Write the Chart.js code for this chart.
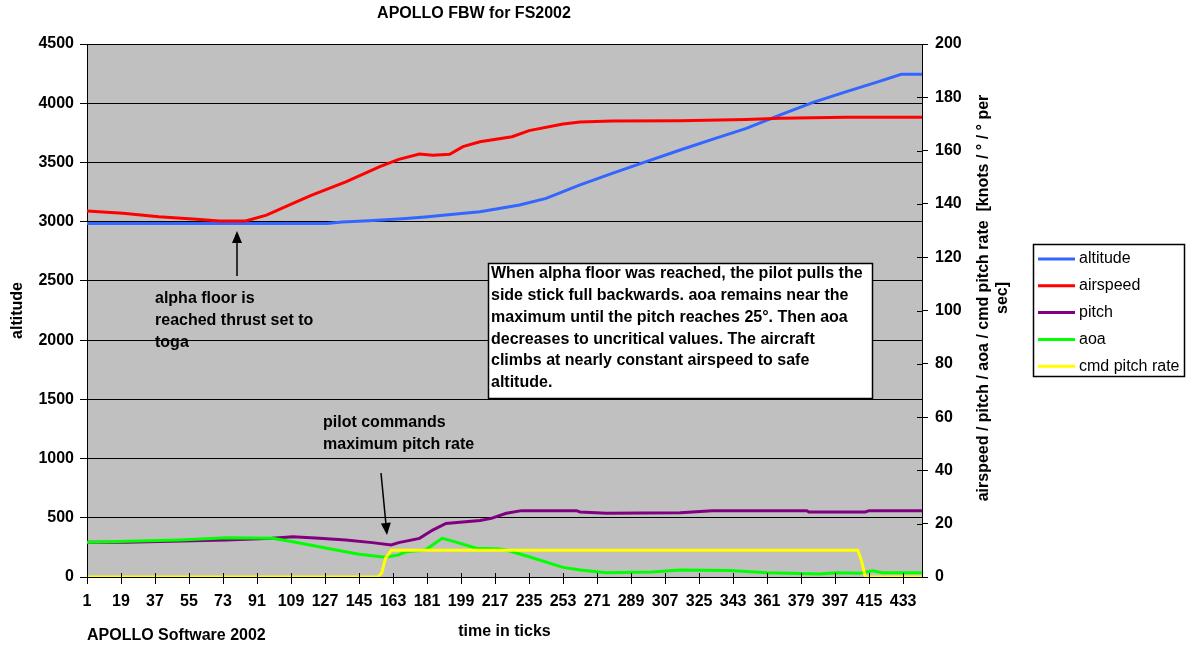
<!DOCTYPE html>
<html>
<head>
<meta charset="utf-8">
<title>APOLLO FBW for FS2002</title>
<script src="https://cdn.jsdelivr.net/npm/chart.js@4.4.0/dist/chart.umd.min.js"></script>
<style>
  html, body { margin: 0; padding: 0; background: #fff; }
</style>
</head>
<body>
<canvas id="chart" width="1193" height="650"></canvas>
<script>
/* APOLLO FBW for FS2002 — alpha floor recovery trace */

const FONT = '"Liberation Sans", Arial, Helvetica, sans-serif';

// time axis tick labels (every 18 ticks)
const timeTicks = [1, 19, 37, 55, 73, 91, 109, 127, 145, 163, 181, 199, 217, 235, 253,
  271, 289, 307, 325, 343, 361, 379, 397, 415, 433];

// altitude (left axis)
const altT = [1, 128, 136, 150, 168, 180, 195, 209, 230, 244, 262, 279, 297, 315, 332, 350, 368, 385, 403, 420, 432, 443];
const altV = [2985, 2985, 2998, 3008, 3025, 3040, 3062, 3084, 3141, 3197, 3310, 3408, 3507, 3605, 3695, 3788, 3901, 4005, 4098, 4182, 4245, 4245];

// airspeed (right axis)
const spdT = [1, 20, 39, 59, 71, 85, 96, 110, 120, 138, 156, 166, 177, 184, 193, 200, 209, 226, 235, 253, 262, 279, 315, 350, 368, 403, 443];
const spdV = [137.3, 136.5, 135.2, 134.2, 133.6, 133.6, 135.8, 140.2, 143.3, 148.3, 154, 156.7, 158.7, 158.3, 158.6, 161.5, 163.3, 165.2, 167.5, 170, 170.7, 171.1, 171.2, 171.7, 172.1, 172.5, 172.5];

// pitch (right axis)
const pitT = [1, 22, 75, 99, 110, 124, 138, 152, 162, 166, 177, 184, 191, 209, 215, 223, 231, 260, 262, 276, 315, 332, 382, 383, 413, 415, 443];
const pitV = [13.0, 13.0, 13.9, 14.5, 15.1, 14.5, 13.9, 12.9, 12.0, 12.9, 14.5, 17.6, 20.1, 21.2, 22, 23.9, 24.9, 24.9, 24.4, 23.9, 24.1, 24.9, 24.9, 24.4, 24.4, 24.9, 24.9];

// aoa (right axis)
const aoaT = [1, 50, 75, 99, 110, 128, 145, 159, 166, 170, 180, 189, 196, 207, 219, 223, 235, 253, 262, 276, 300, 315, 341, 361, 389, 398, 410, 417, 422, 443];
const aoaV = [13.0, 13.9, 14.7, 14.5, 13.2, 10.8, 8.5, 7.4, 8.3, 9.5, 10.1, 14.5, 13.2, 10.8, 10.5, 10.1, 7.6, 3.6, 2.6, 1.6, 1.9, 2.6, 2.4, 1.6, 1.1, 1.6, 1.4, 2.3, 1.6, 1.6];

// cmd pitch rate (right axis)
const cmdT = [1, 155, 157, 159, 162, 409, 411, 413, 443];
const cmdV = [0, 0, 1.5, 7, 10, 10, 6, 0, 0];

const seriesNames = ['altitude', 'airspeed', 'pitch', 'aoa', 'cmd pitch rate'];
const seriesColors = ['#3366ff', '#ff0000', '#800080', '#00ff00', '#ffff00'];

const noteLines = [
  'When alpha floor was reached, the pilot pulls the',
  'side stick full backwards. aoa remains near the',
  'maximum until the pitch reaches 25°. Then aoa',
  'decreases to uncritical values. The aircraft',
  'climbs at nearly constant airspeed to safe',
  'altitude.'
];
const alphaLines = ['alpha floor is', 'reached thrust set to', 'toga'];
const pilotLines = ['pilot commands', 'maximum pitch rate'];
const rightTitle = ['airspeed / pitch / aoa / cmd pitch rate  [knots / ° / ° per', 'sec]'];

const pts = (t, v) => t.map((x, i) => ({ x, y: v[i] }));

function arrow(ctx, x1, y1, x2, y2) {
  const ang = Math.atan2(y2 - y1, x2 - x1);
  const len = 12, half = 5;
  const bx = x2 - len * Math.cos(ang), by = y2 - len * Math.sin(ang);
  ctx.beginPath();
  ctx.moveTo(x1, y1);
  ctx.lineTo(bx, by);
  ctx.stroke();
  ctx.beginPath();
  ctx.moveTo(x2, y2);
  ctx.lineTo(bx + half * Math.sin(ang), by - half * Math.cos(ang));
  ctx.lineTo(bx - half * Math.sin(ang), by + half * Math.cos(ang));
  ctx.closePath();
  ctx.fill();
}

const decor = {
  id: 'decor',
  beforeDraw(chart) {
    const { ctx, chartArea: a } = chart;
    ctx.save();
    ctx.fillStyle = '#fff';
    ctx.fillRect(0, 0, chart.width, chart.height);
    ctx.fillStyle = '#c0c0c0';
    ctx.fillRect(a.left, a.top, a.right - a.left, a.bottom - a.top);
    ctx.restore();
  },
  afterDraw(chart) {
    const { ctx, chartArea: a, scales } = chart;
    ctx.save();
    ctx.fillStyle = '#000';
    ctx.strokeStyle = '#000';
    ctx.lineWidth = 1;

    // inner halves of the tick marks
    ctx.beginPath();
    scales.yR.ticks.forEach(t => {
      const y = Math.round(scales.yR.getPixelForValue(t.value)) + 0.5;
      ctx.moveTo(a.right - 5, y);
      ctx.lineTo(a.right, y);
    });
    scales.x.ticks.forEach(t => {
      const x = Math.round(scales.x.getPixelForValue(t.value)) + 0.5;
      ctx.moveTo(x, a.bottom - 4);
      ctx.lineTo(x, a.bottom);
    });
    ctx.stroke();

    ctx.textBaseline = 'middle';
    ctx.font = 'bold 16px ' + FONT;

    // titles
    ctx.textAlign = 'center';
    ctx.fillText('APOLLO FBW for FS2002', 474, 14);
    ctx.fillText('time in ticks', (a.left + a.right) / 2, 632);
    ctx.textAlign = 'left';
    ctx.fillText('APOLLO Software 2002', 87, 636);

    ctx.save();
    ctx.translate(18, (a.top + a.bottom) / 2);
    ctx.rotate(-Math.PI / 2);
    ctx.textAlign = 'center';
    ctx.fillText('altitude', 0, 0);
    ctx.restore();

    ctx.save();
    ctx.translate(984, 298);
    ctx.rotate(-Math.PI / 2);
    ctx.textAlign = 'center';
    rightTitle.forEach((s, i) => ctx.fillText(s, 0, i * 19));
    ctx.restore();

    // annotations
    ctx.textAlign = 'left';
    alphaLines.forEach((s, i) => ctx.fillText(s, 155, 299 + i * 22));
    pilotLines.forEach((s, i) => ctx.fillText(s, 323, 423 + i * 22));
    ctx.lineWidth = 1.5;
    arrow(ctx, 237, 276, 237, 231);
    arrow(ctx, 381, 473, 387, 535);

    // note box
    ctx.fillStyle = '#fff';
    ctx.fillRect(488, 263, 385, 136);
    ctx.strokeRect(488.5, 263.5, 384, 135);
    ctx.fillStyle = '#000';
    noteLines.forEach((s, i) => ctx.fillText(s, 491, 274 + i * 21.7));

    // legend
    ctx.fillStyle = '#fff';
    ctx.fillRect(1033, 244, 152, 133);
    ctx.lineWidth = 1.5;
    ctx.strokeRect(1033.5, 244.5, 151, 132);
    ctx.font = '16px ' + FONT;
    seriesNames.forEach((name, i) => {
      const y = 259 + i * 26.8;
      ctx.strokeStyle = seriesColors[i];
      ctx.lineWidth = 3;
      ctx.beginPath();
      ctx.moveTo(1038, y);
      ctx.lineTo(1075, y);
      ctx.stroke();
      ctx.fillStyle = '#000';
      ctx.fillText(name, 1079, y);
    });
    ctx.restore();
  }
};

const tickFont = { family: FONT, size: 16, weight: 'bold' };
const plain = v => String(v);

new Chart(document.getElementById('chart'), {
  type: 'line',
  data: {
    datasets: [
      { label: seriesNames[0], data: pts(altT, altV), yAxisID: 'yL', borderColor: seriesColors[0], order: 5 },
      { label: seriesNames[1], data: pts(spdT, spdV), yAxisID: 'yR', borderColor: seriesColors[1], order: 4 },
      { label: seriesNames[2], data: pts(pitT, pitV), yAxisID: 'yR', borderColor: seriesColors[2], order: 3 },
      { label: seriesNames[3], data: pts(aoaT, aoaV), yAxisID: 'yR', borderColor: seriesColors[3], order: 2 },
      { label: seriesNames[4], data: pts(cmdT, cmdV), yAxisID: 'yR', borderColor: seriesColors[4], order: 1 }
    ].map(d => Object.assign(d, { borderWidth: 3, pointRadius: 0, tension: 0, fill: false }))
  },
  options: {
    responsive: false,
    animation: false,
    events: [],
    layout: { padding: { top: 44, left: 0, right: 0, bottom: 0 } },
    plugins: { legend: { display: false }, tooltip: { enabled: false }, title: { display: false } },
    scales: {
      x: {
        type: 'linear',
        min: 1,
        max: 443,
        afterBuildTicks: s => { s.ticks = timeTicks.map(v => ({ value: v })); },
        afterFit: s => { s.height = 73; },
        ticks: { autoSkip: false, maxRotation: 0, font: tickFont, color: '#000', padding: 8, callback: plain },
        grid: { drawOnChartArea: false, drawTicks: true, tickLength: 7, color: '#000' },
        border: { color: '#000', width: 1 }
      },
      yL: {
        position: 'left',
        min: 0,
        max: 4500,
        afterFit: s => { s.width = 87; },
        ticks: { stepSize: 500, font: tickFont, color: '#000', padding: 6, callback: plain },
        grid: { color: '#000', lineWidth: 1, tickLength: 7 },
        border: { color: '#000', width: 1 }
      },
      yR: {
        position: 'right',
        min: 0,
        max: 200,
        afterFit: s => { s.width = 271; },
        ticks: { stepSize: 20, font: tickFont, color: '#000', padding: 7, callback: plain },
        grid: { drawOnChartArea: false, color: '#000', tickLength: 6 },
        border: { color: '#000', width: 1 }
      }
    }
  },
  plugins: [decor]
});
</script>
</body>
</html>
